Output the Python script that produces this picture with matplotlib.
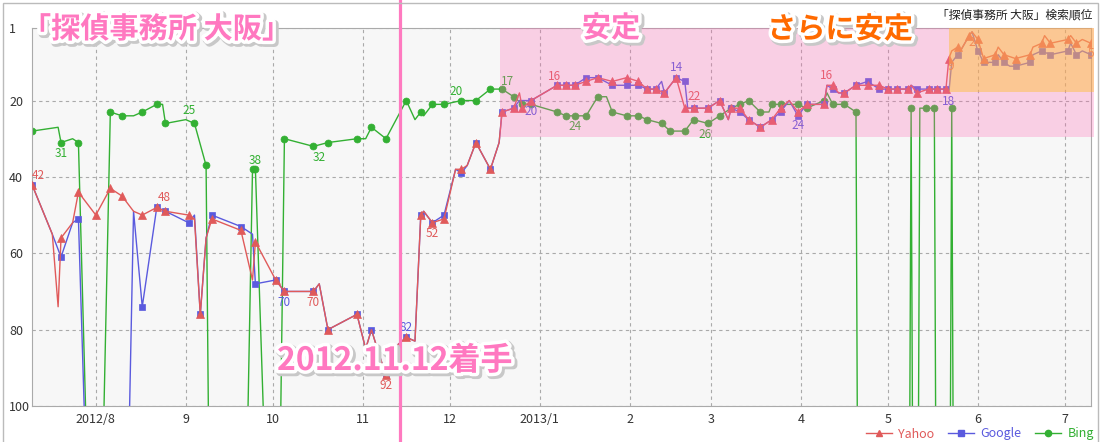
import matplotlib
matplotlib.use("Agg")
import matplotlib.pyplot as plt
import matplotlib.patheffects as pe
from matplotlib.lines import Line2D
from matplotlib.patches import Rectangle
import pandas as pd

plt.rcParams['font.family'] = ['Noto Sans CJK JP', 'DejaVu Sans']

# 検索順位データ (200 = 圏外)
yahoo_dates = [
    '2012-07-10', '2012-07-17', '2012-07-19', '2012-07-20', '2012-07-24', '2012-07-26',
    '2012-08-01', '2012-08-06', '2012-08-10', '2012-08-14', '2012-08-17', '2012-08-22', '2012-08-25',
    '2012-09-02', '2012-09-04', '2012-09-06', '2012-09-08', '2012-09-10', '2012-09-20', '2012-09-24', '2012-09-25',
    '2012-10-02', '2012-10-05', '2012-10-15', '2012-10-17', '2012-10-20', '2012-10-30',
    '2012-11-02', '2012-11-04', '2012-11-06', '2012-11-09', '2012-11-13', '2012-11-16', '2012-11-19',
    '2012-11-21', '2012-11-22', '2012-11-25', '2012-11-29',
    '2012-12-03', '2012-12-05', '2012-12-07', '2012-12-10', '2012-12-15', '2012-12-18', '2012-12-19',
    '2012-12-23', '2012-12-25', '2012-12-26', '2012-12-29',
    '2013-01-07', '2013-01-10', '2013-01-13', '2013-01-17', '2013-01-21', '2013-01-26', '2013-01-31',
    '2013-02-04', '2013-02-07', '2013-02-10', '2013-02-13', '2013-02-17', '2013-02-20', '2013-02-23', '2013-02-28',
    '2013-03-04', '2013-03-07', '2013-03-08', '2013-03-11', '2013-03-14', '2013-03-18', '2013-03-22',
    '2013-03-25', '2013-03-28', '2013-03-31',
    '2013-04-03', '2013-04-09', '2013-04-10', '2013-04-12', '2013-04-14', '2013-04-16', '2013-04-20',
    '2013-04-24', '2013-04-28',
    '2013-05-01', '2013-05-04', '2013-05-08', '2013-05-09', '2013-05-11', '2013-05-15', '2013-05-18',
    '2013-05-21', '2013-05-22', '2013-05-23', '2013-05-25', '2013-05-26', '2013-05-29', '2013-05-30',
    '2013-06-01', '2013-06-03', '2013-06-07', '2013-06-08', '2013-06-10', '2013-06-14', '2013-06-19',
    '2013-06-20', '2013-06-23', '2013-06-24', '2013-06-26',
    '2013-07-02', '2013-07-03', '2013-07-05', '2013-07-07', '2013-07-10']
yahoo_rank = [
    42, 55, 74, 56, 52, 44,
    50, 43, 45, 49, 50, 48, 49,
    50, 51, 76, 56, 51, 54, 67, 57,
    67, 70, 70, 68, 80, 76,
    85, 80, 85, 92, 84, 82, 83, 50, 49, 52, 51,
    38, 38, 37, 31, 38, 31, 23, 22, 18, 22, 20,
    16, 16, 16, 15, 14, 15, 14,
    15, 17, 17, 18, 14, 22, 22, 22,
    20, 25, 22, 22, 25, 27, 25, 22, 20, 23,
    21, 21, 16, 16, 18, 18, 16, 16, 16,
    17, 17, 17, 16, 18, 17, 17, 17, 9, 7, 6, 7, 3, 2,
    4, 9, 8, 6, 8, 9, 8, 6, 5, 3, 5,
    4, 3, 5, 4, 5]
yahoo_mark = [
    1, 0, 0, 1, 0, 1,
    1, 1, 1, 0, 1, 1, 1,
    1, 0, 1, 0, 1, 1, 0, 1,
    1, 1, 1, 0, 1, 1,
    0, 0, 0, 1, 0, 1, 0, 1, 0, 1, 1,
    0, 1, 0, 1, 1, 0, 1, 1, 0, 1, 1,
    1, 1, 1, 1, 1, 1, 1,
    1, 1, 1, 1, 1, 1, 1, 1,
    1, 0, 1, 1, 1, 1, 1, 1, 0, 1,
    1, 1, 0, 1, 0, 1, 1, 1, 1,
    1, 1, 1, 0, 1, 1, 1, 1, 1, 0, 1, 0, 1, 0,
    1, 1, 1, 0, 1, 1, 1, 0, 1, 0, 1,
    1, 0, 1, 0, 1]

google_dates = [
    '2012-07-10', '2012-07-17', '2012-07-20', '2012-07-24', '2012-07-26',
    '2012-08-01', '2012-08-06', '2012-08-10', '2012-08-14', '2012-08-17', '2012-08-22', '2012-08-25',
    '2012-09-02', '2012-09-04', '2012-09-06', '2012-09-08', '2012-09-10', '2012-09-20', '2012-09-24', '2012-09-25',
    '2012-10-02', '2012-10-05', '2012-10-15', '2012-10-17', '2012-10-20', '2012-10-30',
    '2012-11-02', '2012-11-04', '2012-11-06', '2012-11-09', '2012-11-13', '2012-11-16', '2012-11-19',
    '2012-11-21', '2012-11-22', '2012-11-25', '2012-11-29',
    '2012-12-03', '2012-12-05', '2012-12-07', '2012-12-10', '2012-12-15', '2012-12-18', '2012-12-19',
    '2012-12-23', '2012-12-25', '2012-12-29',
    '2013-01-07', '2013-01-10', '2013-01-13', '2013-01-17', '2013-01-21', '2013-01-26', '2013-01-31',
    '2013-02-04', '2013-02-07', '2013-02-10', '2013-02-12', '2013-02-13', '2013-02-17', '2013-02-20',
    '2013-02-21', '2013-02-23', '2013-02-28',
    '2013-03-04', '2013-03-07', '2013-03-08', '2013-03-11', '2013-03-14', '2013-03-18', '2013-03-22',
    '2013-03-25', '2013-03-28', '2013-03-31',
    '2013-04-03', '2013-04-09', '2013-04-10', '2013-04-12', '2013-04-14', '2013-04-16', '2013-04-20',
    '2013-04-24', '2013-04-28',
    '2013-05-01', '2013-05-04', '2013-05-08', '2013-05-09', '2013-05-11', '2013-05-15', '2013-05-18',
    '2013-05-21', '2013-05-22', '2013-05-23', '2013-05-25', '2013-05-26', '2013-05-29', '2013-05-30',
    '2013-06-01', '2013-06-03', '2013-06-07', '2013-06-08', '2013-06-10', '2013-06-12', '2013-06-14',
    '2013-06-19', '2013-06-20', '2013-06-23', '2013-06-26',
    '2013-07-02', '2013-07-03', '2013-07-05', '2013-07-07', '2013-07-10']
google_rank = [
    42, 55, 61, 52, 51,
    200, 200, 200, 49, 74, 48, 49,
    52, 50, 76, 56, 50, 53, 55, 68,
    67, 70, 70, 68, 80, 76,
    85, 80, 85, 92, 84, 82, 83, 50, 49, 52, 50,
    38, 39, 37, 31, 38, 31, 23, 22, 20, 20,
    16, 16, 16, 14, 14, 16, 16,
    16, 17, 17, 15, 18, 14, 15, 22, 22, 22,
    20, 25, 22, 23, 25, 27, 25, 23, 20, 24,
    21, 21, 16, 17, 18, 18, 16, 15, 17,
    17, 17, 17, 16, 17, 17, 17, 17, 18, 10, 8, 7, 3, 2,
    7, 10, 10, 8, 10, 11, 11, 10, 8, 7, 8,
    7, 5, 8, 7, 8]
google_mark = [
    1, 0, 1, 0, 1,
    1, 1, 1, 0, 1, 1, 1,
    1, 0, 1, 0, 1, 1, 0, 1,
    1, 1, 1, 0, 1, 1,
    0, 1, 0, 1, 0, 1, 0, 1, 0, 1, 1,
    0, 1, 0, 1, 1, 0, 1, 1, 0, 1,
    1, 1, 1, 1, 1, 1, 1,
    1, 1, 1, 0, 1, 1, 1, 0, 1, 1,
    1, 0, 1, 1, 1, 1, 1, 1, 0, 1,
    1, 1, 0, 1, 0, 1, 1, 1, 1,
    1, 1, 1, 0, 1, 1, 1, 1, 0, 0, 1, 0, 0, 0,
    1, 1, 1, 0, 1, 0, 1, 1, 0, 1, 1,
    1, 0, 1, 0, 1]

bing_dates = [
    '2012-07-10', '2012-07-19', '2012-07-20', '2012-07-24', '2012-07-26',
    '2012-08-01', '2012-08-06', '2012-08-10', '2012-08-14', '2012-08-17', '2012-08-22', '2012-08-24', '2012-08-25',
    '2012-09-01', '2012-09-04', '2012-09-08', '2012-09-10', '2012-09-20', '2012-09-24', '2012-09-25',
    '2012-10-02', '2012-10-05', '2012-10-15', '2012-10-20', '2012-10-30',
    '2012-11-02', '2012-11-04', '2012-11-09', '2012-11-16', '2012-11-19', '2012-11-21', '2012-11-22',
    '2012-11-25', '2012-11-29',
    '2012-12-05', '2012-12-10', '2012-12-15', '2012-12-19', '2012-12-23', '2012-12-26', '2012-12-29',
    '2013-01-07', '2013-01-10', '2013-01-13', '2013-01-17', '2013-01-21', '2013-01-24', '2013-01-26', '2013-01-31',
    '2013-02-04', '2013-02-07', '2013-02-12', '2013-02-15', '2013-02-20', '2013-02-23', '2013-02-28',
    '2013-03-04', '2013-03-08', '2013-03-11', '2013-03-14', '2013-03-18', '2013-03-21', '2013-03-22',
    '2013-03-25', '2013-03-27', '2013-03-31',
    '2013-04-03', '2013-04-09', '2013-04-10', '2013-04-12', '2013-04-16', '2013-04-20', '2013-04-21',
    '2013-05-08', '2013-05-09', '2013-05-10', '2013-05-11', '2013-05-12', '2013-05-14', '2013-05-17',
    '2013-05-18', '2013-05-22', '2013-05-23', '2013-05-24',
    '2013-07-10']
bing_rank = [
    28, 27, 31, 30, 31,
    200, 23, 24, 24, 23, 21, 21, 26,
    25, 26, 37, 200, 200, 38, 38,
    200, 30, 32, 31, 30,
    30, 27, 30, 20, 25, 23, 24, 21, 21,
    20, 20, 17, 17, 19, 21, 21,
    23, 24, 24, 24, 19, 19, 23, 24,
    24, 25, 26, 28, 28, 25, 26,
    24, 22, 21, 20, 23, 23, 21, 21, 21, 21,
    22, 20, 18, 21, 21, 23, 200,
    200, 22, 200, 200, 22, 22, 22, 200, 200, 22, 200,
    200]
bing_mark = [
    1, 0, 1, 0, 1,
    1, 1, 1, 0, 1, 1, 0, 1,
    0, 1, 1, 1, 1, 1, 1,
    1, 1, 1, 1, 1,
    0, 1, 1, 1, 0, 1, 0, 1, 1,
    1, 1, 1, 1, 1, 1, 1,
    1, 1, 1, 1, 1, 0, 1, 1,
    1, 1, 1, 1, 1, 1, 1,
    1, 1, 1, 1, 1, 0, 1, 1, 0, 1,
    1, 1, 0, 1, 1, 1, 1,
    1, 1, 1, 1, 0, 1, 1, 1, 1, 1, 1,
    1]

# 数値ラベル (日付, x/y ずらし px)
yahoo_notes = [('2012-07-10', 6, 9), ('2012-08-22', 7, 10), ('2012-10-15', 0, -11),
               ('2012-11-09', 0, -10), ('2012-11-25', 0, -11), ('2013-01-07', -3, 9),
               ('2013-02-20', 9, 12), ('2013-04-10', 0, 10), ('2013-05-22', 2, -8),
               ('2013-05-30', 0, -11), ('2013-07-10', 0, -10)]
google_notes = [('2012-10-05', 0, -11), ('2012-11-16', 0, 10), ('2012-12-29', 0, -11),
                ('2013-02-17', 0, 10), ('2013-03-31', 0, -10), ('2013-05-22', 0, -9)]
bing_notes = [('2012-07-20', 0, -11), ('2012-09-01', 3, 9), ('2012-09-24', 3, 9),
              ('2012-10-15', 6, -11), ('2012-12-05', -5, 9), ('2012-12-19', 5, 8),
              ('2013-01-13', 0, -11), ('2013-02-28', -3, -11)]

c_yahoo, c_google, c_bing = '#e05a5a', '#5a5ade', '#33b033'
W, H = 1103, 442

fig = plt.figure(figsize=(W / 100, H / 100), dpi=100)
ax = fig.add_axes([32 / W, 1 - 406 / H, (1091 - 32) / W, (406 - 28) / H])
ax.set_facecolor('#f7f7f7')


def draw(dates, ranks, marks, color, marker, ms, z):
    x = pd.to_datetime(dates)
    every = [i for i, m in enumerate(marks) if m]
    ax.plot(x, ranks, color=color, lw=1.0, marker=marker, ms=ms, markevery=every,
            mec=color, mew=0.5, zorder=z)
    return dict(zip(dates, ranks))


def notes(lookup, items, color):
    for d, dx, dy in items:
        ax.annotate(str(lookup[d]), (pd.Timestamp(d), lookup[d]), xytext=(dx, dy),
                    textcoords='offset pixels', ha='center', va='center',
                    fontsize=8.5, color=color, zorder=5, annotation_clip=False)


bing = draw(bing_dates, bing_rank, bing_mark, c_bing, 'o', 5, 2)
google = draw(google_dates, google_rank, google_mark, c_google, 's', 4.5, 3)
yahoo = draw(yahoo_dates, yahoo_rank, yahoo_mark, c_yahoo, '^', 6, 4)
notes(bing, bing_notes, c_bing)
notes(google, google_notes, c_google)
notes(yahoo, yahoo_notes, c_yahoo)

ax.set_xlim(pd.Timestamp('2012-07-10'), pd.Timestamp('2013-07-10'))
ax.set_ylim(100, 1)
ax.set_yticks([1, 20, 40, 60, 80, 100])
months = pd.date_range('2012-08-01', '2013-07-01', freq='MS')
ax.set_xticks(months)
ax.set_xticklabels([f'{m.year}/{m.month}' if m.month in (1, 8) else str(m.month) for m in months])
ax.tick_params(length=0, labelsize=9, colors='#333333')
ax.tick_params(axis='x', pad=5)
ax.tick_params(axis='y', pad=16.5)
for lab in ax.get_yticklabels():
    lab.set_horizontalalignment('left')
ax.grid(True, linestyle=(0, (3, 3)), color='#aaaaaa', lw=0.8)
for s in ax.spines.values():
    s.set_color('#aaaaaa')

# 安定ゾーン
ax.axvspan(pd.Timestamp('2012-12-18 08:00'), pd.Timestamp('2013-07-11'), ymin=(100 - 29.5) / 99, ymax=1,
           color='#ff69b4', alpha=0.28, lw=0, zorder=6, clip_on=False)
ax.axvspan(pd.Timestamp('2013-05-22'), pd.Timestamp('2013-07-11'), ymin=(100 - 17.8) / 99, ymax=1,
           color='#ffbe32', alpha=0.45, lw=0, zorder=7, clip_on=False)
ax.axvline(pd.Timestamp('2012-11-14'), ymin=-0.1, ymax=1.08, color='#ff7ac0', lw=2.3,
           clip_on=False, zorder=8)

glow = [pe.Stroke(linewidth=6, foreground='#c8c8c8', offset=(1.5, -1.5)),
        pe.Stroke(linewidth=5, foreground='white'), pe.Normal()]
pink = '#ff78c0'
fig.text(22 / W, 1 - 29 / H, '「探偵事務所 大阪」', color=pink, fontsize=21, fontweight='bold',
         ha='left', va='center', path_effects=glow, zorder=10)
fig.text(611 / W, 1 - 28 / H, '安定', color=pink, fontsize=21, fontweight='bold',
         ha='center', va='center', path_effects=glow, zorder=10)
fig.text(840 / W, 1 - 29 / H, 'さらに安定', color='#ff6a00', fontsize=21, fontweight='bold',
         ha='center', va='center', path_effects=glow, zorder=10)
fig.text(277 / W, 1 - 361 / H, '2012.11.12着手', color=pink, fontsize=23, fontweight='bold',
         ha='left', va='center', path_effects=glow, zorder=10)
fig.text(1092 / W, 1 - 15 / H, '「探偵事務所 大阪」検索順位', color='#222222', fontsize=8.5,
         ha='right', va='center')

handles = [Line2D([], [], color=c, marker=m, ms=s, lw=1) for c, m, s in
           [(c_yahoo, '^', 5), (c_google, 's', 4), (c_bing, 'o', 4.5)]]
fig.legend(handles, ['Yahoo', 'Google', 'Bing'], loc='center right', bbox_to_anchor=(1094 / W, 1 - 434 / H),
           ncol=3, frameon=False, fontsize=9, labelcolor='linecolor', handlelength=2.1,
           handletextpad=0.5, columnspacing=1.1, borderpad=0, borderaxespad=0)

fig.add_artist(Rectangle((3 / W, -0.05), 1095 / W, 1.05 - 3 / H, transform=fig.transFigure,
                         fill=False, ec='#bbbbbb', lw=1))

fig.savefig('out.png', dpi=100)
